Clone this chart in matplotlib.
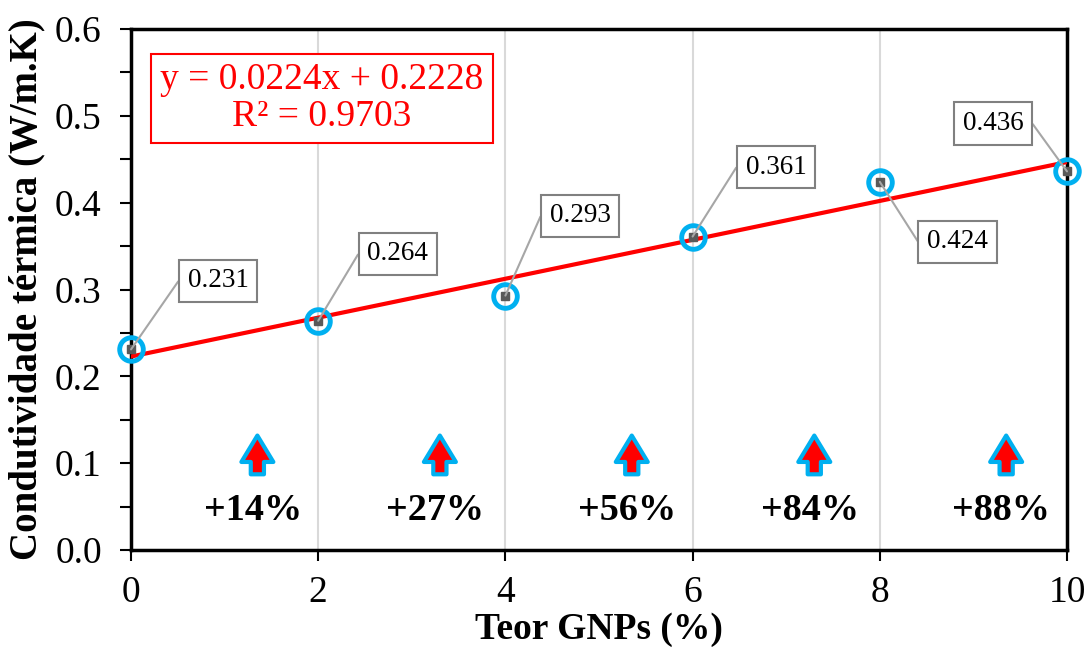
import matplotlib
matplotlib.use("Agg")
import matplotlib.pyplot as plt
from matplotlib.ticker import MultipleLocator, FormatStrFormatter
from matplotlib.patches import FancyArrowPatch
import numpy as np

plt.rcParams['font.family'] = ['Liberation Serif', 'DejaVu Serif']

# ---- data ----
gnp_content = [0, 2, 4, 6, 8, 10]
conductivity = [0.231, 0.264, 0.293, 0.361, 0.424, 0.436]
value_labels = ["0.231", "0.264", "0.293", "0.361", "0.424", "0.436"]
fit_slope = 0.0224
fit_intercept = 0.2228
fit_text = "y = 0.0224x + 0.2228\nR² = 0.9703"
increase_labels = ["+14%", "+27%", "+56%", "+84%", "+88%"]
increase_x = [1.35, 3.3, 5.35, 7.3, 9.35]
xlabel = "Teor GNPs (%)"
ylabel = "Condutividade térmica (W/m.K)"

# ---- layout (label positions in data coords) ----
label_pos = [(0.93, 0.310), (2.85, 0.341), (4.80, 0.385), (6.89, 0.441), (8.83, 0.355), (9.21, 0.491)]
label_side = ['left', 'left', 'left', 'left', 'left', 'right']

fig = plt.figure(figsize=(10.89, 6.5), dpi=100)
ax = fig.add_axes([0.1203, 0.1538, 0.9798 - 0.1203, 0.9554 - 0.1538])

ax.set_xlim(0, 10)
ax.set_ylim(0, 0.6)

ax.xaxis.set_major_locator(MultipleLocator(2))
ax.yaxis.set_major_locator(MultipleLocator(0.1))
ax.yaxis.set_minor_locator(MultipleLocator(0.05))
ax.yaxis.set_major_formatter(FormatStrFormatter('%.1f'))
ax.grid(axis='x', color='#D9D9D9', lw=1.5, zorder=0)
ax.set_axisbelow(True)

for s in ax.spines.values():
    s.set_linewidth(2.5)
    s.set_color('black')

ax.tick_params(axis='both', which='both', direction='out', length=8, width=1.5,
               labelsize=27, pad=10)
ax.tick_params(axis='y', which='both', pad=13)
ax.tick_params(axis='x', which='minor', bottom=False)

# fit line
xf = np.array([0, 10])
ax.plot(xf, fit_slope * xf + fit_intercept, color='#FF0000', lw=3, zorder=3)

# points
ax.plot(gnp_content, conductivity, linestyle='none', marker='s', ms=5.5,
        mfc='#595959', mec='#595959', zorder=4, clip_on=False)
ax.plot(gnp_content, conductivity, linestyle='none', marker='o', ms=17,
        mfc='none', mec='#00B0F0', mew=3.5, zorder=5, clip_on=False)

# data labels
for x, y, lab, (lx, ly), side in zip(gnp_content, conductivity, value_labels, label_pos, label_side):
    if side == 'left':
        rel = (0, 0.5); angA = 180
    else:
        rel = (1, 0.5); angA = 0
    ax.annotate(lab, xy=(x, y), xytext=(lx, ly), fontsize=19.5,
                ha='center', va='center', zorder=6, annotation_clip=False,
                bbox=dict(boxstyle='square,pad=0.32', fc='white', ec='#808080', lw=1.5),
                arrowprops=dict(arrowstyle='-', color='#A6A6A6', lw=1.5,
                                relpos=rel, shrinkA=0, shrinkB=0,
                                connectionstyle=f'arc,angleA={angA},armA=9,angleB=0,armB=0,rad=0'))

# equation box
ax.text(2.04, 0.520, fit_text, color='#FF0000', fontsize=27, ha='center', va='center',
        linespacing=1.08, zorder=6,
        bbox=dict(boxstyle='square,pad=0.25', fc='white', ec='#FF0000', lw=1.5))

# increase arrows and labels
for xa, lab in zip(increase_x, increase_labels):
    arr = FancyArrowPatch((xa, 0.084), (xa, 0.135),
                          arrowstyle='simple,head_length=1.9,head_width=2.3,tail_width=0.95',
                          mutation_scale=10, fc='#FF0000', ec='#00B0F0', lw=3, zorder=6)
    ax.add_patch(arr)
    ax.text(xa - 0.05, 0.046, lab, fontsize=27.5, fontweight='bold', ha='center', va='center', zorder=6)

ax.set_xlabel(xlabel, fontsize=27, fontweight='bold', labelpad=2)
ax.set_ylabel(ylabel, fontsize=28, fontweight='bold', labelpad=7)

fig.savefig('out.png', dpi=100)
